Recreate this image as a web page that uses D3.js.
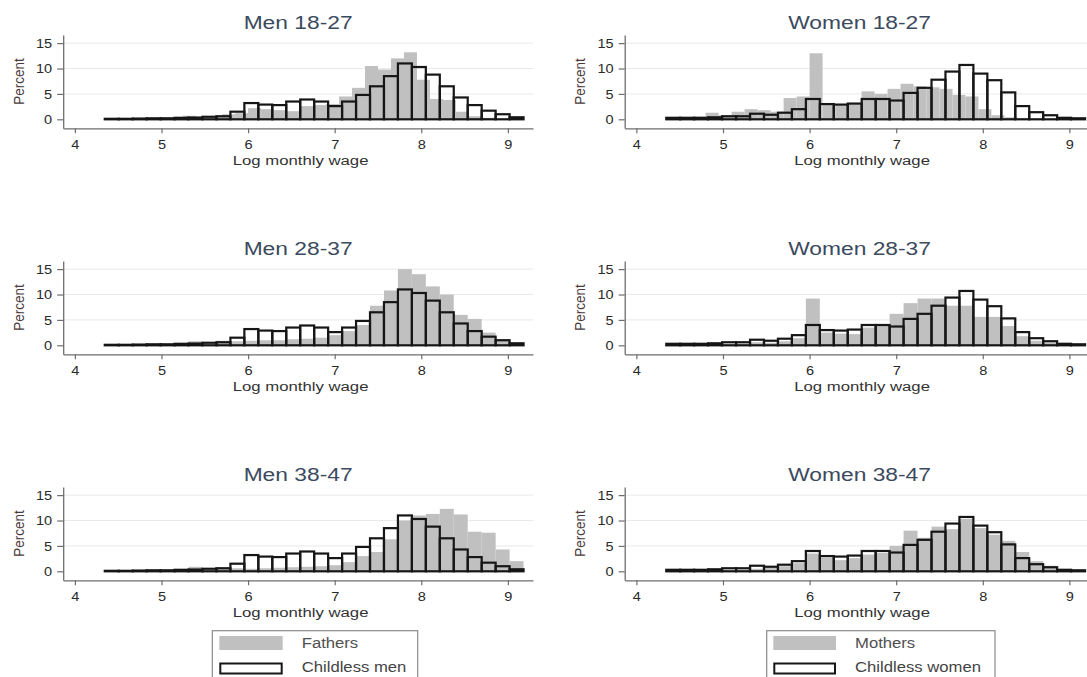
<!DOCTYPE html>
<html>
<head>
<meta charset="utf-8">
<script src="https://cdn.jsdelivr.net/npm/d3@7"></script>
<style>
  html, body { margin: 0; padding: 0; background: #fff; }
  svg { display: block; font-family: "Liberation Sans", Arial, sans-serif; }
</style>
</head>
<body>
<div id="chart"></div>
<script>
// histogram bins: childless groups and the age-specific parents
const binStartWide = 4.345, binWidthWide = 0.1612;   // 30 bins used by most series
const binStartNarrow = 4.35, binWidthNarrow = 0.15;  // bins of the 18-27 parents

const childlessMen = [0.1, 0.1, 0.15, 0.2, 0.2, 0.3, 0.35, 0.5, 0.6, 1.5,
  3.2, 2.9, 2.8, 3.5, 3.9, 3.5, 2.6, 3.5, 4.8, 6.5,
  8.5, 11.0, 10.3, 8.8, 6.5, 4.3, 2.8, 1.7, 1.0, 0.4];
const childlessWomen = [0.3, 0.3, 0.3, 0.4, 0.6, 0.6, 1.1, 0.9, 1.3, 2.0,
  4.0, 3.0, 2.9, 3.1, 4.0, 4.0, 3.7, 5.2, 6.2, 7.8,
  9.4, 10.7, 9.0, 7.7, 5.3, 2.6, 1.4, 0.8, 0.3, 0.2];

const fathers1827 = [0.1, 0.1, 0.1, 0.2, 0.2, 0.3, 0.7, 0.4, 0.5, 1.0,
  1.2, 2.2, 2.0, 1.8, 1.6, 2.6, 2.8, 3.0, 4.5, 6.2,
  10.5, 9.8, 12.0, 13.2, 7.8, 4.0, 3.8, 1.5, 0.6, 0.3];
const mothers1827 = [0.2, 0.3, 0.5, 1.3, 0.8, 1.5, 2.0, 1.8, 1.5, 4.2,
  4.5, 13.0, 3.0, 2.8, 3.0, 5.5, 5.0, 6.0, 7.0, 6.5,
  6.3, 6.0, 4.8, 4.5, 2.0, 0.8, 0.4, 0.2, 0.1, 0.05];
const fathers2837 = [0.05, 0.05, 0.1, 0.1, 0.15, 0.2, 0.8, 0.3, 0.9, 0.8,
  0.9, 1.0, 1.0, 1.2, 1.3, 1.5, 2.0, 2.8, 4.0, 7.8,
  10.8, 15.0, 14.0, 11.6, 10.0, 6.0, 5.2, 2.5, 1.2, 0.4];
const mothers2837 = [0.05, 0.1, 0.1, 0.1, 0.2, 0.3, 0.6, 0.5, 0.8, 1.4,
  9.2, 2.5, 2.3, 2.2, 3.5, 3.8, 6.2, 8.3, 9.2, 9.2,
  7.8, 7.8, 5.6, 5.6, 3.8, 1.8, 0.9, 0.5, 0.2, 0.1];
const fathers3847 = [0.05, 0.05, 0.1, 0.1, 0.15, 0.2, 0.9, 0.3, 0.8, 0.6,
  0.5, 0.6, 0.7, 0.8, 0.9, 1.0, 1.2, 1.8, 3.0, 3.8,
  6.3, 10.0, 11.0, 11.3, 12.3, 11.2, 7.8, 7.6, 4.3, 2.0];
const mothers3847 = [0.05, 0.1, 0.1, 0.1, 0.2, 0.3, 0.5, 0.9, 1.0, 1.6,
  3.5, 2.7, 2.2, 2.6, 3.3, 3.6, 5.0, 8.0, 6.6, 8.8,
  8.3, 10.3, 8.5, 7.2, 6.0, 3.8, 2.0, 1.1, 0.3, 0.1];

const xTicks = [4, 5, 6, 7, 8, 9];
const yTicks = [0, 5, 10, 15];

const panels = [
  { title: "Men 18-27",   col: 0, row: 0, parent: fathers1827, narrow: true,  childless: childlessMen },
  { title: "Women 18-27", col: 1, row: 0, parent: mothers1827, narrow: true,  childless: childlessWomen },
  { title: "Men 28-37",   col: 0, row: 1, parent: fathers2837, narrow: false, childless: childlessMen },
  { title: "Women 28-37", col: 1, row: 1, parent: mothers2837, narrow: false, childless: childlessWomen },
  { title: "Men 38-47",   col: 0, row: 2, parent: fathers3847, narrow: false, childless: childlessMen },
  { title: "Women 38-47", col: 1, row: 2, parent: mothers3847, narrow: false, childless: childlessWomen }
];

const legends = [
  { col: 0, labels: ["Fathers", "Childless men"] },
  { col: 1, labels: ["Mothers", "Childless women"] }
];

var W = 1087, H = 677;
var colLeft = [63.2, 624.7], plotW = 469.8;
var rowStep = 226;
var grayFill = "#c0c0c0", outline = "#161616";

var svg = d3.select("#chart").append("svg")
  .attr("width", W).attr("height", H);

function stretched(g, x, y, txt, size, sx, anchor, color) {
  return g.append("text")
    .attr("transform", "translate(" + x + "," + y + ") scale(" + sx + ",1)")
    .attr("text-anchor", anchor)
    .attr("font-size", size)
    .attr("fill", color)
    .text(txt);
}

panels.forEach(function (p) {
  var x0 = colLeft[p.col], off = p.row * rowStep;
  var x = d3.scaleLinear().domain([3.865, 9.29]).range([x0, x0 + plotW]);
  var y = d3.scaleLinear().domain([-1.77, 16.6]).range([128.3 + off, 35 + off]);
  var g = svg.append("g");
  var cx = x0 + plotW / 2;

  // gridlines
  g.selectAll(".grid").data(yTicks.filter(function (d) { return d > 0; }))
    .enter().append("line")
    .attr("x1", x0).attr("x2", x0 + plotW)
    .attr("y1", function (d) { return y(d); }).attr("y2", function (d) { return y(d); })
    .attr("stroke", "#e9e9ee").attr("stroke-width", 1);

  var ps = p.narrow ? binStartNarrow : binStartWide;
  var pw = p.narrow ? binWidthNarrow : binWidthWide;

  g.selectAll(".parent").data(p.parent).enter().append("rect")
    .attr("x", function (d, i) { return x(ps + i * pw); })
    .attr("width", function (d, i) { return x(ps + (i + 1) * pw) - x(ps + i * pw); })
    .attr("y", function (d) { return y(d); })
    .attr("height", function (d) { return y(0) - y(d); })
    .attr("fill", grayFill);

  g.selectAll(".childless").data(p.childless).enter().append("rect")
    .attr("x", function (d, i) { return x(binStartWide + i * binWidthWide); })
    .attr("width", function (d, i) { return x(binStartWide + (i + 1) * binWidthWide) - x(binStartWide + i * binWidthWide); })
    .attr("y", function (d) { return y(d); })
    .attr("height", function (d) { return y(0) - y(d); })
    .attr("fill", "none")
    .attr("stroke", outline)
    .attr("stroke-width", 2.2);

  // axes
  var sxTick = 1.12;
  var ay = g.append("g").attr("transform", "translate(" + x0 + ",0)")
    .call(d3.axisLeft(y).tickValues(yTicks).tickFormat(d3.format("d"))
      .tickSize(6).tickSizeOuter(0).tickPadding(5));
  ay.selectAll("text")
    .attr("font-size", 13).attr("fill", "#2a2a2a").attr("font-family", null)
    .attr("x", -11 / sxTick).attr("transform", "scale(" + sxTick + ",1)");

  var ax = g.append("g").attr("transform", "translate(0," + y.range()[0] + ")")
    .call(d3.axisBottom(x).tickValues(xTicks).tickFormat(d3.format("d"))
      .tickSize(5).tickSizeOuter(0).tickPadding(6.5));
  ax.selectAll("text")
    .attr("font-size", 13).attr("fill", "#2a2a2a").attr("font-family", null)
    .attr("transform", "scale(" + sxTick + ",1)");
  [ay, ax].forEach(function (a) {
    a.select(".domain").attr("stroke", "#6e6e6e").attr("stroke-width", 1.3);
    a.selectAll(".tick line").attr("stroke", "#6e6e6e").attr("stroke-width", 1.2);
  });

  // titles
  stretched(g, cx, 29 + off, p.title, 19, 1.2, "middle", "#3b4a5e");
  stretched(g, cx + 2.5, 164.5 + off, "Log monthly wage", 13.5, 1.24, "middle", "#333");
  g.append("text")
    .attr("transform", "translate(" + (x0 - 39.5) + "," + (81.5 + off) + ") rotate(-90) scale(1,1.12)")
    .attr("text-anchor", "middle")
    .attr("font-size", 13.5)
    .attr("fill", "#4a3a3a")
    .text("Percent");
});

// legends
var legendBox = [[212.3, 417.7], [766.7, 995]];
var swatchX = [[219.3, 282.7], [773.3, 836]];
var legTextX = [301.7, 855];
legends.forEach(function (l) {
  var g = svg.append("g");
  var b = legendBox[l.col], s = swatchX[l.col];
  g.append("rect").attr("x", b[0]).attr("y", 630.7)
    .attr("width", b[1] - b[0]).attr("height", 70)
    .attr("fill", "#fff").attr("stroke", "#8a8a8a").attr("stroke-width", 1.2);
  g.append("rect").attr("x", s[0]).attr("y", 636)
    .attr("width", s[1] - s[0]).attr("height", 14).attr("fill", grayFill);
  g.append("rect").attr("x", s[0] + 1).attr("y", 663.5)
    .attr("width", s[1] - s[0] - 2).attr("height", 10)
    .attr("fill", "#fff").attr("stroke", outline).attr("stroke-width", 2);
  stretched(g, legTextX[l.col], 648, l.labels[0], 14.5, 1.15, "start", "#505050");
  stretched(g, legTextX[l.col], 671.5, l.labels[1], 14.5, 1.15, "start", "#444");
});
</script>
</body>
</html>
